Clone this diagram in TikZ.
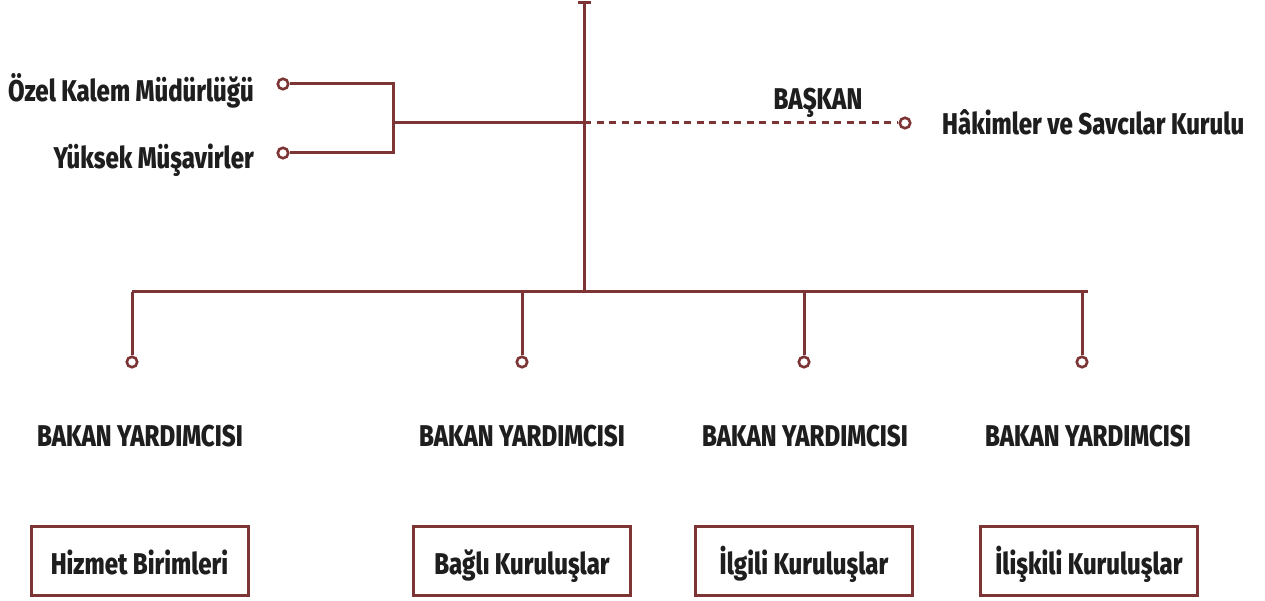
\documentclass[tikz,border=0pt]{standalone}
\usepackage{fontspec}
\setmainfont{Fira Sans}[FakeStretch=0.8,BoldFont={Fira Sans ExtraBold}]
\definecolor{line}{RGB}{124,52,52}
\definecolor{ink}{RGB}{30,30,30}
\begin{document}
\begin{tikzpicture}[x=1pt,y=-1pt,
  conn/.style={draw=line,line width=3pt},
  dashconn/.style={draw=line,line width=3pt,dash pattern=on 7pt off 5.5pt},
  dot/.style={circle,draw=line,fill=white,line width=2.6pt,minimum size=10.5pt,inner sep=0pt},
  lbl/.style={font=\bfseries\fontsize{30}{32}\selectfont,text=ink,inner sep=0pt,anchor=base},
  unitbox/.style={draw=line,line width=3pt,minimum width=217pt,minimum height=69pt,inner sep=0pt,
    font=\bfseries\fontsize{30}{32}\selectfont,text=ink,text height=27.5pt,text depth=0pt}]
\useasboundingbox (0,0) rectangle (1265,601);
% coordinates
\coordinate (top) at (584,3);
\coordinate (capL) at (578,3);
\coordinate (capR) at (591,3);
\coordinate (hub) at (584,123);
\coordinate (bus) at (584,292);
\coordinate (br) at (393,123);
\coordinate (busL) at (132,292);
\coordinate (busR) at (1088,292);
\coordinate (t1) at (132,292);
\coordinate (t2) at (522,292);
\coordinate (t3) at (804,292);
\coordinate (t4) at (1082,292);
% dots
\node[dot] (dOzel) at (283,84) {};
\node[dot] (dYuk) at (283,153) {};
\node[dot] (dHSK) at (905,123) {};
\node[dot] (d1) at (132,362) {};
\node[dot] (d2) at (522,362) {};
\node[dot] (d3) at (804,362) {};
\node[dot] (d4) at (1082,362) {};
% connectors
\draw[conn] (capL) -- (capR);
\draw[conn] (top) -- (bus);
\draw[conn] (busL) -- (busR);
\draw[conn] (dOzel) -| (br) |- (dYuk);
\draw[conn] (br) -- (hub);
\draw[dashconn] (hub) -- (dHSK);
\draw[conn] (t1) -- (d1);
\draw[conn] (t2) -- (d2);
\draw[conn] (t3) -- (d3);
\draw[conn] (t4) -- (d4);
% labels
\node[lbl,anchor=base east] (ozel) at (254,102) {Özel Kalem Müdürlüğü};
\node[lbl,anchor=base east] (yuk) at (254,169) {Yüksek Müşavirler};
\node[lbl] (baskan) at (818,109.5) {BAŞKAN};
\node[lbl,anchor=base west] (hsk) at (942,134.5) {Hâkimler ve Savcılar Kurulu};
\node[lbl] (by1) at (140,446.5) {BAKAN YARDIMCISI};
\node[lbl] (by2) at (522,446.5) {BAKAN YARDIMCISI};
\node[lbl] (by3) at (805,446.5) {BAKAN YARDIMCISI};
\node[lbl] (by4) at (1088,446.5) {BAKAN YARDIMCISI};
% boxes
\node[unitbox] (b1) at (139.5,560.5) {Hizmet Birimleri};
\node[unitbox] (b2) at (522,560.5) {Bağlı Kuruluşlar};
\node[unitbox] (b3) at (804,560.5) {İlgili Kuruluşlar};
\node[unitbox] (b4) at (1089,560.5) {İlişkili Kuruluşlar};
\end{tikzpicture}
\end{document}
